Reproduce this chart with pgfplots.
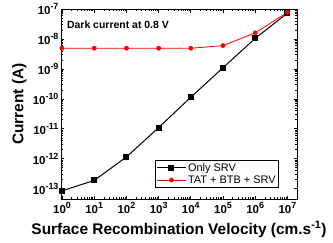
\documentclass[border=0pt]{standalone}
\usepackage{pgfplots}
\pgfplotsset{compat=1.18}
\usepackage{fontspec}
\setmainfont{Liberation Sans}
\newcommand{\tsup}[1]{\raisebox{0.42em}{\fontsize{9}{9}\selectfont\bfseries #1}}
\begin{document}
\begin{tikzpicture}
\path[use as bounding box] (-61bp,-44bp) rectangle (272bp,199bp);
\begin{axis}[
  at={(0,0)}, anchor=south west,
  scale only axis,
  width=236bp, height=190bp,
  xmode=log, ymode=log,
  xmin=0.93, xmax=1.98e7,
  ymin=4.55e-14, ymax=1e-7,
  xtick={1,10,100,1000,1e4,1e5,1e6,1e7},
  xticklabels={10\tsup{0},10\tsup{1},10\tsup{2},10\tsup{3},10\tsup{4},10\tsup{5},10\tsup{6},10\tsup{7}},
  ytick={1e-13,1e-12,1e-11,1e-10,1e-9,1e-8,1e-7},
  yticklabels={10\tsup{-13},10\tsup{-12},10\tsup{-11},10\tsup{-10},10\tsup{-9},10\tsup{-8},10\tsup{-7}},
  tick label style={font=\fontsize{11.5}{12}\selectfont\bfseries},
  yticklabel style={xshift=1bp},
  tick align=inside,
  tick pos=both,
  major tick length=3.5bp, minor tick length=2bp,
  every tick/.style={black, line width=0.7pt},
  axis line style={line width=1pt},
  xlabel={Surface Recombination Velocity (cm.s\textsuperscript{-1})},
  ylabel={Current (A)},
  label style={font=\fontsize{15.5}{16}\selectfont\bfseries},
  xlabel style={at={(axis description cs:0.5,0)}, anchor=base, yshift=-35bp},
  ylabel style={at={([xshift=-37.5bp]axis description cs:0,0.5)}, anchor=base},
  legend style={at={(rel axis cs:0.924,0.058)}, anchor=south east, font=\fontsize{11}{12}\selectfont, draw=black, line width=0.7pt, inner sep=1pt, row sep=-1pt, cells={anchor=west}},
  legend cell align=left,
  legend image code/.code={\draw[mark repeat=2,mark phase=2] plot coordinates {(0cm,0cm) (0.5cm,0cm) (1.0cm,0cm)};},
]
\addplot[black, line width=1pt, mark=square*, mark size=2.5bp, mark options={solid}] coordinates {
  (1,8.5e-14) (10,1.9e-13) (100,1.15e-12) (1000,1.1e-11) (1e4,1.14e-10) (1e5,1.1e-9) (1e6,1.05e-8) (1e7,7.3e-8)
};
\addlegendentry{Only SRV}
\addplot[red, line width=0.8pt, mark=*, mark size=2bp] coordinates {
  (1,4.9e-9) (10,4.9e-9) (100,4.9e-9) (1000,4.9e-9) (1e4,4.9e-9) (1e5,6e-9) (1e6,1.6e-8) (1e7,7.8e-8)
};
\addlegendentry{TAT + BTB + SRV}
\node[anchor=base west, font=\fontsize{10.5}{11}\selectfont\bfseries, inner sep=0pt] at (rel axis cs:0.025,0.895) {Dark current at 0.8 V};
\end{axis}
\end{tikzpicture}
\end{document}
